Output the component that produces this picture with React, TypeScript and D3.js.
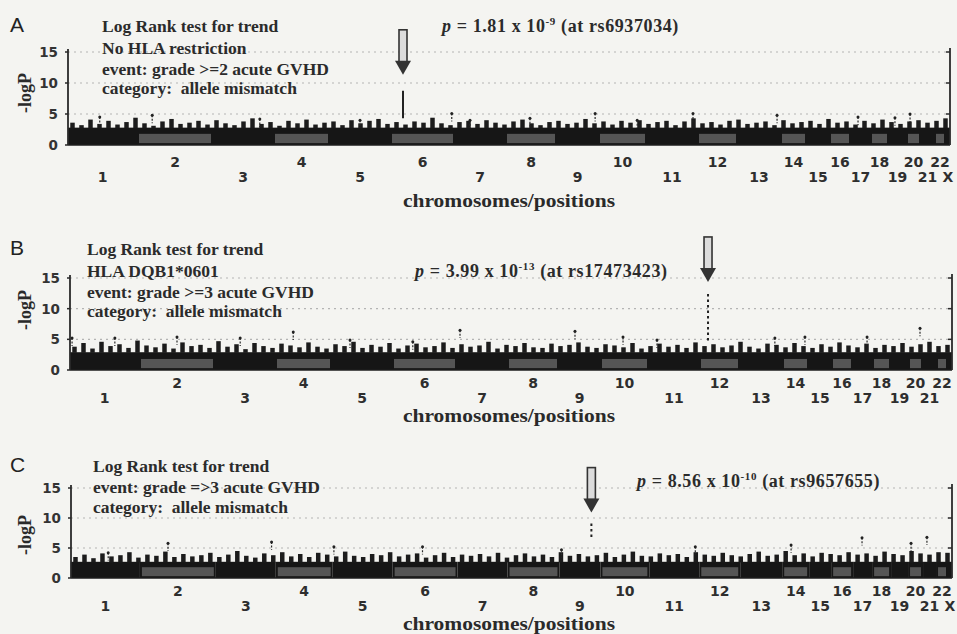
import React, { useEffect, useRef } from 'react';
import * as d3 from 'd3';

const chromosomes = ['1', '2', '3', '4', '5', '6', '7', '8', '9', '10', '11', '12', '13', '14', '15', '16', '17', '18', '19', '20', '21', '22', 'X'];
// relative width of each chromosome on the x axis
const chromSpans = [69, 76, 60, 57, 60, 65, 50, 52, 41, 49, 50, 41, 42, 27, 22, 22, 19, 19, 17, 15, 13, 12, 4];

const yTicks = [0, 5, 10, 15];
const gridTicks = [5, 10, 15];

const panelLetters = ['A', 'B', 'C'];
const notesA = ['Log Rank test for trend', 'No HLA restriction', 'event: grade >=2 acute GVHD', 'category:  allele mismatch'];
const notesB = ['Log Rank test for trend', 'HLA DQB1*0601', 'event: grade >=3 acute GVHD', 'category:  allele mismatch'];
const notesC = ['Log Rank test for trend', 'event: grade =>3 acute GVHD', 'category:  allele mismatch'];

const pValues = [1.81e-9, 3.99e-13, 8.56e-10];
const hitSnps = ['rs6937034', 'rs17473423', 'rs9657655'];
const hitChrom = ['6', '12', '9'];
const hitFrac = [0.2, 0.22, 0.78];
const hitBase = [4.3, 4.8, 6.5];
const hitDotted = [false, true, true];

// dense mass of SNPs: top of the solid band per panel
const bandLevel = [2.8, 2.9, 2.7];

// highest -logP in each of 98 equal genome bins
const tuftsA = [
  3.6, 3.2, 4.1, 3.4, 3.9, 3.3, 3.7, 4.4, 3.5, 3.1, 3.8, 4.2, 3.4, 3.6,
  3.9, 3.3, 4.0, 3.5, 3.2, 3.8, 4.3, 3.4, 3.7, 3.1, 3.9, 3.5, 4.1, 3.3,
  3.6, 3.8, 3.2, 4.0, 3.5, 3.9, 4.2, 3.4, 3.7, 3.3, 3.8, 3.6, 4.4, 3.5,
  3.2, 3.7, 3.9, 3.4, 4.0, 3.6, 3.3, 3.8, 4.1, 3.5, 3.2, 3.7, 3.9, 3.4,
  3.6, 4.2, 3.5, 3.8, 3.3, 3.9, 3.6, 4.0, 3.4, 3.7, 3.9, 3.2, 3.8, 4.3,
  3.5, 3.7, 3.3, 3.9, 4.1, 3.4, 3.6, 3.8, 3.2, 4.0, 3.5, 3.7, 3.9, 3.4,
  4.2, 3.6, 3.8, 3.3, 3.9, 3.5, 4.1, 3.7, 3.4, 3.8, 4.0, 3.6, 3.9, 4.3,
];
const tuftsB = [
  3.8, 4.4, 3.5, 4.6, 3.9, 4.2, 3.6, 4.8, 4.0, 3.7, 4.3, 3.5, 4.5, 3.9,
  4.1, 3.6, 4.7, 3.8, 4.2, 3.4, 4.4, 3.9, 3.6, 4.3, 4.0, 3.7, 4.5, 3.8,
  3.5, 4.2, 3.9, 4.6, 3.6, 4.1, 3.8, 4.4, 3.5, 4.0, 4.3, 3.7, 3.9, 4.5,
  3.6, 4.2, 3.8, 4.0, 4.6, 3.5, 4.1, 3.9, 4.4, 3.7, 3.6, 4.3, 3.9, 4.1,
  4.5, 3.8, 3.6, 4.2, 4.0, 3.7, 4.4, 3.5, 3.9, 4.3, 3.8, 4.1, 3.6, 4.5,
  3.9, 4.2, 3.7, 4.0, 4.6, 3.8, 3.5, 4.3, 4.1, 3.7, 4.4, 3.9, 3.6, 4.2,
  3.8, 4.5, 4.0, 3.7, 4.3, 3.6, 4.1, 3.9, 4.4, 3.8, 4.2, 4.6, 3.9, 4.1,
];
const tuftsC = [
  3.5, 3.9, 3.3, 4.1, 3.6, 3.8, 4.3, 3.4, 3.9, 3.7, 4.4, 3.5, 4.0, 3.6,
  3.8, 4.2, 3.5, 3.9, 4.5, 3.7, 3.4, 4.1, 3.8, 4.3, 3.6, 4.0, 3.5, 4.2,
  3.9, 3.6, 4.4, 3.7, 3.5, 4.0, 3.8, 4.3, 3.6, 3.9, 4.1, 3.4, 3.8, 4.2,
  3.5, 3.9, 3.7, 4.0, 3.6, 4.2, 3.4, 3.8, 4.1, 3.6, 3.9, 3.5, 4.3, 3.7,
  4.0, 3.6, 3.8, 4.2, 3.5, 3.9, 4.4, 3.7, 3.6, 4.1, 3.8, 4.0, 3.5, 4.3,
  3.9, 3.7, 4.2, 3.8, 3.6, 4.0, 4.4, 3.7, 3.9, 4.5, 3.8, 4.1, 3.6, 4.2,
  4.0, 3.8, 4.3, 3.9, 4.1, 3.7, 4.4, 4.0, 3.8, 4.5, 4.1, 3.9, 4.3, 4.2,
];

// isolated SNPs standing above the band: [chromosome, fraction along it, -logP]
const outliersA: [string, number, number][] = [
  ['1', 0.46, 4.5], ['2', 0.2, 4.8], ['3', 0.78, 4.2], ['5', 0.5, 4.0], ['6', 0.95, 5.1],
  ['7', 0.3, 4.0], ['8', 0.48, 4.3], ['9', 0.93, 5.1], ['10', 0.8, 4.0], ['11', 0.92, 5.1],
  ['13', 0.93, 4.8], ['17', 0.37, 4.5], ['19', 0.35, 4.4], ['20', 0.27, 5.0],
];
const outliersB: [string, number, number][] = [
  ['1', 0.03, 5.2], ['1', 0.65, 5.2], ['2', 0.5, 5.4], ['3', 0.42, 5.2], ['4', 0.32, 6.2],
  ['5', 0.3, 4.9], ['6', 0.32, 4.6], ['7', 0.06, 6.5], ['9', 0.39, 6.3], ['10', 0.47, 5.4],
  ['11', 0.16, 4.9], ['13', 0.83, 5.2], ['14', 0.85, 5.4], ['17', 0.74, 5.4], ['20', 0.8, 6.8],
];
const outliersC: [string, number, number][] = [
  ['1', 0.54, 4.2], ['2', 0.37, 5.8], ['3', 0.93, 6.0], ['5', 0.02, 5.2], ['6', 0.46, 5.2],
  ['9', 0.05, 4.7], ['11', 0.92, 5.2], ['14', 0.33, 5.5], ['17', 0.47, 6.7], ['20', 0.2, 5.8],
  ['21', 0.3, 6.8],
];

const panels = [
  { notes: notesA, tufts: tuftsA, outliers: outliersA, showX: true,
    x0: 68, x1: 950, y0: 145, y15: 52, letterY: 32, noteX: 102, noteY: [32, 54, 75, 94],
    pX: 442, pY: 32, upperY: 167, lowerY: 182, xLabelY: 207, xLabelSize: 19, yLabelY: 93, arrowGap: 16 },
  { notes: notesB, tufts: tuftsB, outliers: outliersB, showX: false,
    x0: 70, x1: 952, y0: 370, y15: 278, letterY: 255, noteX: 87, noteY: [255, 277, 298, 317],
    pX: 415, pY: 277, upperY: 388, lowerY: 403, xLabelY: 422, xLabelSize: 19, yLabelY: 310, arrowGap: 12 },
  { notes: notesC, tufts: tuftsC, outliers: outliersC, showX: true,
    x0: 71, x1: 952, y0: 578, y15: 488, letterY: 472, noteX: 93, noteY: [472, 493, 513],
    pX: 637, pY: 487, upperY: 596, lowerY: 611, xLabelY: 630, xLabelSize: 18, yLabelY: 535, arrowGap: 11 },
];

const serif = '"Liberation Serif", "Times New Roman", serif';
const sans = '"DejaVu Sans", Verdana, sans-serif';

const App: React.FC = () => {
  const ref = useRef<SVGSVGElement>(null);

  useEffect(() => {
    const svg = d3.select(ref.current);
    svg.selectAll('*').remove();
    svg.append('rect').attr('width', 957).attr('height', 634).attr('fill', '#f4f4f1');

    const ends = Array.from(d3.cumsum(chromSpans));
    const starts = ends.map((e, i) => e - chromSpans[i]);
    const total = ends[ends.length - 1];
    const posOf = (chr: string, frac: number) => {
      const i = chromosomes.indexOf(chr);
      return starts[i] + frac * chromSpans[i];
    };

    panels.forEach((p, k) => {
      const g = svg.append('g');
      const x = d3.scaleLinear().domain([0, total]).range([p.x0, p.x1]);
      const y = d3.scaleLinear().domain([0, 15]).range([p.y0, p.y15]);

      // dotted grid
      g.selectAll('line.grid')
        .data(gridTicks)
        .enter()
        .append('line')
        .attr('x1', p.x0)
        .attr('x2', p.x1)
        .attr('y1', (d) => y(d))
        .attr('y2', (d) => y(d))
        .attr('stroke', '#b4b4b4')
        .attr('stroke-width', 1.2)
        .attr('stroke-dasharray', '2,4');

      // solid band per chromosome
      g.selectAll('rect.band')
        .data(chromosomes)
        .enter()
        .append('rect')
        .attr('x', (_, i) => x(starts[i]))
        .attr('width', (_, i) => x(ends[i]) - x(starts[i]))
        .attr('y', y(bandLevel[k]))
        .attr('height', y(0) - y(bandLevel[k]))
        .attr('fill', '#161616');

      // tufts of the dense band
      const binW = total / p.tufts.length;
      const tuftW = (x(binW) - x(0)) * 0.5;
      g.selectAll('rect.tuft')
        .data(p.tufts)
        .enter()
        .append('rect')
        .attr('x', (_, i) => x((i + 0.5) * binW) - tuftW / 2)
        .attr('width', tuftW)
        .attr('y', (d) => y(d))
        .attr('height', (d) => y(bandLevel[k] - 0.1) - y(d))
        .attr('fill', '#1c1c1c');

      // lighter shading of every second chromosome
      g.selectAll('rect.shade')
        .data(chromosomes.filter((_, i) => i % 2 === 1))
        .enter()
        .append('rect')
        .attr('x', (c) => x(starts[chromosomes.indexOf(c)]) + 2)
        .attr('width', (c) => x(ends[chromosomes.indexOf(c)]) - x(starts[chromosomes.indexOf(c)]) - 4)
        .attr('y', y(1.8))
        .attr('height', y(0.3) - y(1.8))
        .attr('fill', '#555');

      // isolated SNPs
      const og = g.selectAll('g.out').data(p.outliers).enter().append('g');
      og.append('line')
        .attr('x1', (d) => x(posOf(d[0], d[1])))
        .attr('x2', (d) => x(posOf(d[0], d[1])))
        .attr('y1', (d) => y(d[2]))
        .attr('y2', (d) => y(Math.max(bandLevel[k], d[2] - 1.3)))
        .attr('stroke', '#2a2a2a')
        .attr('stroke-width', 1.2)
        .attr('stroke-dasharray', '2,1.5');
      og.append('circle')
        .attr('cx', (d) => x(posOf(d[0], d[1])))
        .attr('cy', (d) => y(d[2]))
        .attr('r', 1.5)
        .attr('fill', '#222');

      // top hit
      const hitX = x(posOf(hitChrom[k], hitFrac[k]));
      const hitTop = -Math.log10(pValues[k]);
      g.append('line')
        .attr('x1', hitX)
        .attr('x2', hitX)
        .attr('y1', y(hitTop))
        .attr('y2', y(hitBase[k]))
        .attr('stroke', '#222')
        .attr('stroke-width', 2)
        .attr('stroke-dasharray', hitDotted[k] ? '2.5,3' : null);

      // arrow
      const tip = y(hitTop) - p.arrowGap;
      g.append('rect')
        .attr('x', hitX - 4)
        .attr('y', tip - 45)
        .attr('width', 8)
        .attr('height', 32)
        .attr('fill', '#dcdcdc')
        .attr('stroke', '#333')
        .attr('stroke-width', 1.6);
      g.append('path')
        .attr('d', `M${hitX - 8},${tip - 14}L${hitX + 8},${tip - 14}L${hitX},${tip}Z`)
        .attr('fill', '#333');

      // axes
      g.append('line').attr('x1', p.x0).attr('x2', p.x1).attr('y1', y(0)).attr('y2', y(0))
        .attr('stroke', '#1e1e1e').attr('stroke-width', 1.5);
      g.append('line').attr('x1', p.x0).attr('x2', p.x0).attr('y1', y(0)).attr('y2', y(15) - 3)
        .attr('stroke', '#2a2a2a').attr('stroke-width', 1.8);
      g.append('line').attr('x1', p.x1).attr('x2', p.x1).attr('y1', y(0)).attr('y2', y(15) - 4)
        .attr('stroke', '#2a2a2a').attr('stroke-width', 1.8);
      g.selectAll('line.rt')
        .data(gridTicks)
        .enter()
        .append('line')
        .attr('x1', p.x1 - 4)
        .attr('x2', p.x1)
        .attr('y1', (d) => y(d))
        .attr('y2', (d) => y(d))
        .attr('stroke', '#2a2a2a')
        .attr('stroke-width', 1.5);
      g.selectAll('line.lt')
        .data(yTicks)
        .enter()
        .append('line')
        .attr('x1', p.x0 - 3)
        .attr('x2', p.x0)
        .attr('y1', (d) => y(d))
        .attr('y2', (d) => y(d))
        .attr('stroke', '#2a2a2a')
        .attr('stroke-width', 1.5);
      g.selectAll('text.yt')
        .data(yTicks)
        .enter()
        .append('text')
        .attr('x', p.x0 - 10)
        .attr('y', (d) => y(d) + 5)
        .attr('text-anchor', 'end')
        .attr('font-family', sans)
        .attr('font-weight', 'bold')
        .attr('font-size', 13.5)
        .attr('fill', '#333')
        .text((d) => d);

      // chromosome labels, alternating rows
      const labels = p.showX ? chromosomes : chromosomes.slice(0, 22);
      g.selectAll('text.chr')
        .data(labels)
        .enter()
        .append('text')
        .attr('x', (c) => {
          const i = chromosomes.indexOf(c);
          return x((starts[i] + ends[i]) / 2);
        })
        .attr('y', (c) => (chromosomes.indexOf(c) % 2 === 1 ? p.upperY : p.lowerY))
        .attr('text-anchor', 'middle')
        .attr('font-family', sans)
        .attr('font-weight', 'bold')
        .attr('font-size', 14)
        .attr('fill', '#2e2e2e')
        .text((c) => c);

      g.append('text')
        .attr('x', 509)
        .attr('y', p.xLabelY)
        .attr('text-anchor', 'middle')
        .attr('font-family', serif)
        .attr('font-weight', 'bold')
        .attr('font-size', p.xLabelSize)
        .attr('textLength', 212)
        .attr('lengthAdjust', 'spacingAndGlyphs')
        .attr('fill', '#2a2a2a')
        .text('chromosomes/positions');

      g.append('text')
        .attr('transform', `translate(31,${p.yLabelY}) rotate(-90)`)
        .attr('text-anchor', 'middle')
        .attr('font-family', serif)
        .attr('font-weight', 'bold')
        .attr('font-size', 18)
        .attr('fill', '#2a2a2a')
        .text('-logP');

      // panel letter and notes
      g.append('text')
        .attr('x', 10)
        .attr('y', p.letterY)
        .attr('font-family', '"Liberation Sans", Arial, sans-serif')
        .attr('font-size', 21)
        .attr('fill', '#222')
        .text(panelLetters[k]);

      g.selectAll('text.note')
        .data(p.notes)
        .enter()
        .append('text')
        .attr('x', p.noteX)
        .attr('y', (_, i) => p.noteY[i])
        .attr('font-family', serif)
        .attr('font-weight', 'bold')
        .attr('font-size', 17.5)
        .attr('fill', '#2b2b2b')
        .style('white-space', 'pre')
        .text((d) => d);

      const [mant, expo] = pValues[k].toExponential(2).split('e');
      const pt = g.append('text')
        .attr('x', p.pX)
        .attr('y', p.pY)
        .attr('font-family', serif)
        .attr('font-weight', 'bold')
        .attr('font-size', 18)
        .attr('letter-spacing', 0.6)
        .attr('fill', '#2b2b2b')
        .style('white-space', 'pre');
      pt.append('tspan').attr('font-style', 'italic').text('p');
      pt.append('tspan').text(` = ${mant} x 10`);
      pt.append('tspan').attr('font-size', 11).attr('dy', -7).text(expo);
      pt.append('tspan').attr('dy', 7).text(` (at ${hitSnps[k]})`);
    });
  }, []);

  return <svg ref={ref} width={957} height={634} style={{ position: 'absolute', left: 0, top: 0 }} />;
};

export default App;
